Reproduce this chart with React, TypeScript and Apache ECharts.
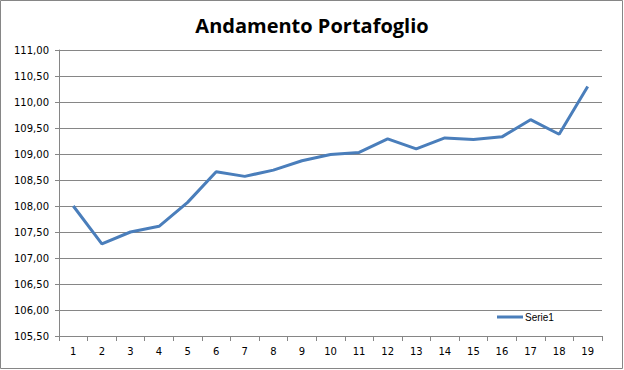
import React, { useEffect, useRef } from "react";
import * as echarts from "echarts";

const categories = ["1","2","3","4","5","6","7","8","9","10","11","12","13","14","15","16","17","18","19"];
const serie1 = [108.0, 107.27, 107.5, 107.61, 108.07, 108.66, 108.57, 108.69, 108.87, 108.99, 109.03, 109.29, 109.1, 109.31, 109.28, 109.33, 109.66, 109.38, 110.3];
const titleText = "Andamento Portafoglio";
const seriesName = "Serie1";

export default function App() {
  const ref = useRef<HTMLDivElement>(null);
  useEffect(() => {
    if (!ref.current) return;
    const chart = echarts.init(ref.current, null, { renderer: "svg" });
    chart.setOption({
      animation: false,
      backgroundColor: "#ffffff",
      title: {
        text: titleText,
        left: "center",
        top: 10,
        textStyle: { fontFamily: "Open Sans", fontWeight: "bold", fontSize: 20, color: "#000" },
      },
      graphic: [
        {
          type: "rect",
          shape: { x: 0.5, y: 0.5, width: 622, height: 368 },
          style: { fill: "none", stroke: "#868686", lineWidth: 1 },
        },
      ],
      legend: {
        data: [seriesName],
        left: 492,
        top: 307,
        itemWidth: 26,
        itemHeight: 3,
        itemGap: 2,
        icon: "rect",
        textStyle: { fontFamily: "Liberation Sans", fontSize: 10, color: "#000", padding: [0, 0, 0, -3] },
      },
      grid: { left: 59, right: 22, top: 50, bottom: 34 },
      xAxis: {
        type: "category",
        data: categories,
        boundaryGap: true,
        axisLine: { lineStyle: { color: "#868686", width: 1 } },
        axisTick: { show: true, length: 5, alignWithLabel: false, lineStyle: { color: "#868686" } },
        axisLabel: { fontFamily: "DejaVu Sans", fontSize: 10, color: "#000", margin: 10 },
      },
      yAxis: {
        type: "value",
        min: 105.5,
        max: 111,
        interval: 0.5,
        axisLine: { show: true, lineStyle: { color: "#868686", width: 1 } },
        axisTick: { show: true, length: 4, lineStyle: { color: "#868686" } },
        splitLine: { lineStyle: { color: "#868686", width: 1 } },
        axisLabel: {
          fontFamily: "DejaVu Sans",
          fontSize: 10,
          color: "#000",
          margin: 10,
          formatter: (v: number) => v.toFixed(2).replace(".", ","),
        },
      },
      series: [
        {
          name: seriesName,
          type: "line",
          data: serie1,
          showSymbol: false,
          symbol: "none",
          lineStyle: { color: "#4a7ebb", width: 3 },
          itemStyle: { color: "#4a7ebb" },
        },
      ],
    });
    return () => chart.dispose();
  }, []);
  return <div ref={ref} style={{ position: "absolute", left: 0, top: 0, width: 624, height: 370 }} />;
}
